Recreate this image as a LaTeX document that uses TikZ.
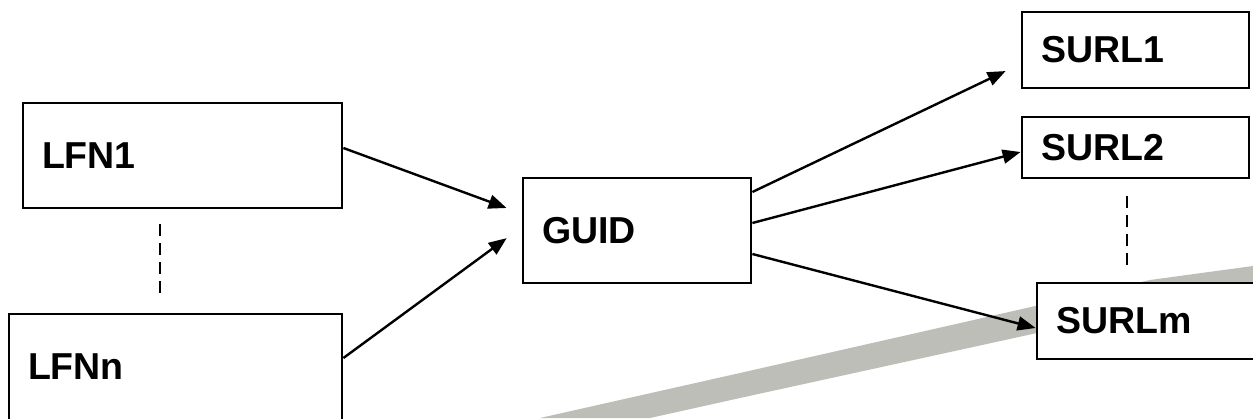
\documentclass[tikz,border=0pt]{standalone}
\usepackage{fontspec}
\setmainfont{Liberation Sans}
\usetikzlibrary{arrows.meta,calc}
\definecolor{bandgray}{RGB}{189,190,184}
\begin{document}
\begin{tikzpicture}[x=1pt,y=-1pt,
  box/.style={draw,line width=2.8pt,inner xsep=19pt,inner ysep=0pt,align=left,
    font=\fontsize{37.5}{40}\selectfont\bfseries},
  link/.style={line width=2.4pt,-{Triangle[length=18pt,width=14pt]}},
  dotline/.style={line width=1.8pt,dash pattern=on 12pt off 7pt}]
\clip (0,0) rectangle (1253,418);
\fill[white] (0,0) rectangle (1253,418);
% grey swoosh in the background
\fill[bandgray] (540,418) -- (740,373) -- (1150,280) -- (1253,266) -- (1253,300)
  -- (1037,333) -- (740,398) -- (650,418) -- cycle;
% boxes
\node[box,text width=281pt,minimum height=105pt] (LFN1) at (182.5,155.5) {LFN1};
\node[box,text width=295pt,minimum height=106pt] (LFNn) at (175.5,367) {LFNn};
\node[box,text width=190pt,minimum height=105pt] (GUID) at (637,230.5) {GUID};
\node[box,text width=189pt,minimum height=76pt] (SURL1) at (1135.5,50) {SURL1};
\node[box,text width=189pt,minimum height=61pt] (SURL2) at (1135.5,147.5) {SURL2};
\node[box,fill=white,text width=190pt,minimum height=76pt] (SURLm) at (1151,321) {SURLm};
% connectors
\draw[link,shorten >=16pt] ($(LFN1.east)+(0,-7.5)$) -- ($(GUID.west)+(0,-17)$);
\draw[link,shorten >=18.5pt] ($(LFNn.east)+(0,-9)$) -- ($(GUID.west)+(0,-3.3)$);
\draw[link,shorten >=16.6pt] ($(GUID.east)+(0,-38.5)$) -- ($(SURL1.west)+(0,13.9)$);
\draw[link] ($(GUID.east)+(0,-7.5)$) -- ($(SURL2.west)+(0,4.5)$);
\draw[link] ($(GUID.east)+(0,23.5)$) -- ($(SURLm.west)+(0,7)$);
% dashed continuation lines
\draw[dotline] ($(LFN1.south)+(-22.5,15)$) -- ($(LFNn.north)+(-15.5,-15)$);
\draw[dotline] ($(SURL2.south)+(-8.5,17)$) -- ($(SURLm.north)+(-24,-15)$);
\end{tikzpicture}
\end{document}
